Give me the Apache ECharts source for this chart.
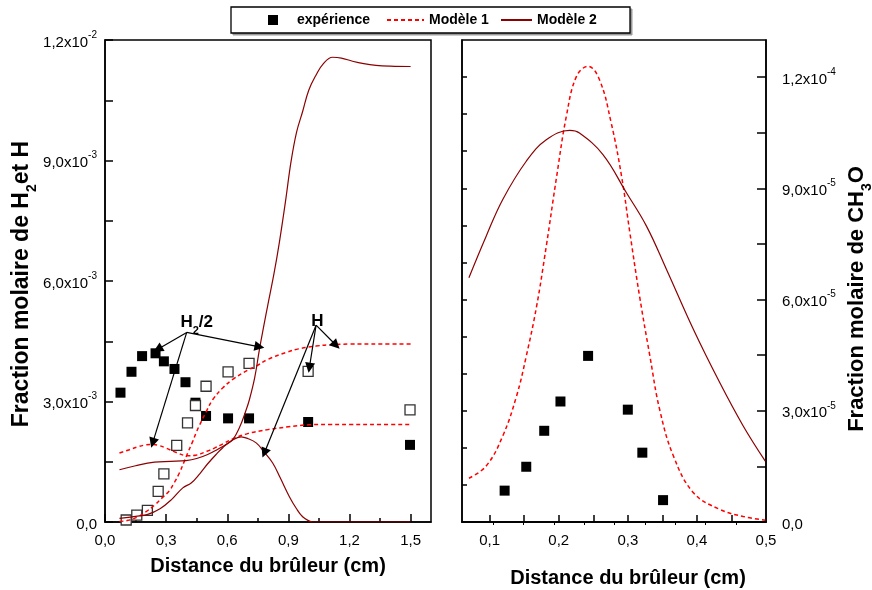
<!DOCTYPE html>
<html>
<head>
<meta charset="utf-8">
<script src="https://cdn.jsdelivr.net/npm/echarts@6/dist/echarts.min.js"></script>
<style>
  html, body { margin: 0; padding: 0; background: #fff; }
  #chart { width: 872px; height: 590px; }
</style>
</head>
<body>
<div id="chart"></div>
<script>
// ---- Panneau gauche : H2/2 et H (fraction molaire) ----
const h2ExpX = [0.076, 0.130, 0.182, 0.248, 0.289, 0.341, 0.395, 0.444, 0.496, 0.604, 0.707, 0.997, 1.497];
const h2ExpY = [3.22e-3, 3.74e-3, 4.13e-3, 4.20e-3, 4.00e-3, 3.81e-3, 3.48e-3, 2.97e-3, 2.64e-3, 2.58e-3, 2.58e-3, 2.49e-3, 1.92e-3];

const hExpX = [0.104, 0.156, 0.208, 0.261, 0.289, 0.352, 0.405, 0.444, 0.496, 0.604, 0.707, 0.997, 1.497];
const hExpY = [0.05e-3, 0.17e-3, 0.29e-3, 0.76e-3, 1.20e-3, 1.91e-3, 2.47e-3, 2.90e-3, 3.38e-3, 3.74e-3, 3.95e-3, 3.75e-3, 2.79e-3];

const h2Mod1X = [0.071, 0.12, 0.16, 0.2, 0.227, 0.26, 0.3, 0.35, 0.406, 0.45, 0.5, 0.537, 0.58, 0.627, 0.7, 0.8, 0.9, 1.0, 1.1, 1.2, 1.35, 1.5];
const h2Mod1Y = [1.72e-3, 1.80e-3, 1.87e-3, 1.92e-3, 1.93e-3, 1.91e-3, 1.84e-3, 1.73e-3, 1.65e-3, 1.67e-3, 1.76e-3, 1.84e-3, 1.95e-3, 2.07e-3, 2.20e-3, 2.30e-3, 2.37e-3, 2.42e-3, 2.43e-3, 2.43e-3, 2.43e-3, 2.43e-3];

const hMod1X = [0.071, 0.12, 0.161, 0.2, 0.243, 0.28, 0.316, 0.34, 0.365, 0.39, 0.406, 0.43, 0.447, 0.463, 0.5, 0.529, 0.58, 0.627, 0.7, 0.742, 0.8, 0.889, 0.95, 1.036, 1.1, 1.2, 1.35, 1.5];
const hMod1Y = [0.01e-3, 0.05e-3, 0.13e-3, 0.25e-3, 0.42e-3, 0.60e-3, 0.78e-3, 0.98e-3, 1.22e-3, 1.52e-3, 1.72e-3, 2.0e-3, 2.22e-3, 2.40e-3, 2.78e-3, 3.05e-3, 3.35e-3, 3.55e-3, 3.78e-3, 3.88e-3, 4.05e-3, 4.22e-3, 4.31e-3, 4.38e-3, 4.41e-3, 4.43e-3, 4.43e-3, 4.43e-3];

const h2Mod2X = [0.071, 0.15, 0.243, 0.32, 0.398, 0.45, 0.504, 0.55, 0.594, 0.627, 0.66, 0.69, 0.709, 0.735, 0.758, 0.78, 0.799, 0.83, 0.856, 0.885, 0.913, 0.94, 0.97, 1.0, 1.036, 1.07, 1.117, 1.16, 1.215, 1.27, 1.33, 1.4, 1.5];
const h2Mod2Y = [1.30e-3, 1.40e-3, 1.49e-3, 1.51e-3, 1.53e-3, 1.58e-3, 1.68e-3, 1.80e-3, 1.93e-3, 2.05e-3, 2.35e-3, 2.75e-3, 3.05e-3, 3.6e-3, 4.3e-3, 4.9e-3, 5.4e-3, 6.2e-3, 6.97e-3, 7.95e-3, 8.97e-3, 9.7e-3, 10.22e-3, 10.75e-3, 11.13e-3, 11.40e-3, 11.57e-3, 11.55e-3, 11.47e-3, 11.41e-3, 11.37e-3, 11.35e-3, 11.34e-3];

const hMod2X = [0.071, 0.15, 0.21, 0.27, 0.325, 0.382, 0.423, 0.465, 0.504, 0.545, 0.578, 0.62, 0.668, 0.7, 0.742, 0.78, 0.823, 0.86, 0.905, 0.94, 0.97, 1.0, 1.019, 1.1, 1.2, 1.3, 1.4, 1.5];
const hMod2Y = [0.09e-3, 0.14e-3, 0.19e-3, 0.33e-3, 0.55e-3, 0.85e-3, 0.97e-3, 1.2e-3, 1.45e-3, 1.68e-3, 1.85e-3, 2.02e-3, 2.12e-3, 2.08e-3, 1.97e-3, 1.75e-3, 1.47e-3, 1.1e-3, 0.63e-3, 0.33e-3, 0.13e-3, 0.03e-3, 0, 0, 0, 0, 0, 0];

// Flèches d'annotation : [x départ, y départ, x arrivée, y arrivée]
const arrowsH2 = [
  [0.401, 4.72e-3, 0.259, 4.30e-3],
  [0.401, 4.72e-3, 0.234, 1.97e-3],
  [0.401, 4.72e-3, 0.758, 4.36e-3]
];
const arrowsH = [
  [1.036, 4.90e-3, 1.134, 4.40e-3],
  [1.036, 4.90e-3, 1.003, 3.84e-3],
  [1.036, 4.90e-3, 0.782, 1.72e-3]
];
const labelH2Pos = [0.45, 4.9e-3];
const labelHPos = [1.042, 4.93e-3];

// ---- Panneau droit : CH3O ----
const ch3oExpX = [0.1217, 0.153, 0.179, 0.2025, 0.2425, 0.300, 0.321, 0.351];
const ch3oExpY = [0.846e-5, 1.49e-5, 2.46e-5, 3.25e-5, 4.48e-5, 3.03e-5, 1.87e-5, 0.59e-5];

const ch3oMod1X = [0.070, 0.095, 0.119, 0.139, 0.153, 0.168, 0.182, 0.197, 0.211, 0.2257, 0.2425, 0.259, 0.276, 0.291, 0.303, 0.317, 0.332, 0.346, 0.366, 0.395, 0.433, 0.467, 0.499];
const ch3oMod1Y = [1.18e-5, 1.51e-5, 2.32e-5, 3.40e-5, 4.47e-5, 5.82e-5, 7.44e-5, 9.32e-5, 10.94e-5, 12.02e-5, 12.29e-5, 11.93e-5, 10.76e-5, 9.32e-5, 7.80e-5, 6.09e-5, 4.47e-5, 3.04e-5, 1.78e-5, 0.79e-5, 0.34e-5, 0.15e-5, 0.05e-5];

const ch3oMod2X = [0.070, 0.095, 0.119, 0.153, 0.182, 0.216, 0.230, 0.264, 0.298, 0.327, 0.356, 0.395, 0.433, 0.467, 0.499];
const ch3oMod2Y = [6.59e-5, 7.71e-5, 8.70e-5, 9.73e-5, 10.31e-5, 10.56e-5, 10.49e-5, 9.91e-5, 8.88e-5, 7.98e-5, 6.81e-5, 5.19e-5, 3.76e-5, 2.59e-5, 1.64e-5];

// ---- Graduations ----
const leftXLabels = [0, 0.3, 0.6, 0.9, 1.2, 1.5];
const leftXMinor = [0.15, 0.45, 0.75, 1.05, 1.35];
const leftYTicks = [0, 1.5e-3, 3e-3, 4.5e-3, 6e-3, 7.5e-3, 9e-3, 10.5e-3, 12e-3];
const leftYLabels = [0, 3e-3, 6e-3, 9e-3, 12e-3];
const rightXLabels = [0.1, 0.2, 0.3, 0.4, 0.5];
const rightXTicks = [0.1, 0.15, 0.2, 0.25, 0.3, 0.35, 0.4, 0.45];
const rightXTopTicks = [0.1048, 0.1483, 0.1928, 0.2367, 0.2802, 0.3246, 0.3681, 0.4126, 0.4565];
const rightYLeftTicks = [1e-5, 2e-5, 3e-5, 4e-5, 5e-5, 6e-5, 7e-5, 8e-5, 9e-5, 10e-5, 11e-5, 12e-5];
const rightYTicks = [1.5e-5, 3e-5, 4.5e-5, 6e-5, 7.5e-5, 9e-5, 10.5e-5, 12e-5];
const rightYLabels = [0, 3e-5, 6e-5, 9e-5, 12e-5];

const FONT = '"Liberation Sans", Arial, sans-serif';
const RED = '#ff0000';
const DARK = '#8b0000';

const zip = (xs, ys) => xs.map((x, i) => [x, ys[i]]);
const comma = v => v.toFixed(1).replace('.', ',');

function sci(v) {
  if (Math.abs(v) < 1e-12) return '{m|0,0}';
  const e = Math.floor(Math.log10(v) + 1e-9);
  const m = comma(v / Math.pow(10, e));
  return '{m|' + m + 'x10}{e|' + e + '}';
}

const sciRich = {
  m: { fontSize: 15, fontFamily: FONT, color: '#000', lineHeight: 20, verticalAlign: 'bottom' },
  e: { fontSize: 10, fontFamily: FONT, color: '#000', lineHeight: 12, verticalAlign: 'top' }
};
function titleRich(size) {
  return {
    t: { fontSize: size, fontWeight: 'bold', fontFamily: FONT, color: '#000', lineHeight: size + 6, verticalAlign: 'top' },
    s: { fontSize: Math.round(size * 0.62), fontWeight: 'bold', fontFamily: FONT, color: '#000', lineHeight: size + 6, verticalAlign: 'bottom' }
  };
}

const axisLineStyle = { lineStyle: { color: '#000', width: 1.5 } };
const legendText = { fontSize: 14, fontWeight: 'bold', fontFamily: FONT, color: '#000' };

function arrowData(list) {
  return list.map(a => [{ coord: [a[0], a[1]] }, { coord: [a[2], a[3]] }]);
}

const option = {
  animation: false,
  backgroundColor: '#fff',
  graphic: [
    { type: 'rect', z: 0, shape: { x: 233, y: 9, width: 399, height: 26 }, style: { fill: '#999', stroke: '#999' } },
    { type: 'rect', z: 0, shape: { x: 231, y: 7, width: 399, height: 26 }, style: { fill: '#fff', stroke: '#000', lineWidth: 1.3 } }
  ],
  legend: [
    {
      left: 268, top: 13, padding: 0, itemWidth: 10, itemHeight: 10, selectedMode: false,
      data: [{ name: 'expérience', icon: 'rect' }],
      itemStyle: { color: '#000', opacity: 1 },
      textStyle: Object.assign({ padding: [0, 0, 0, 14] }, legendText)
    },
    {
      left: 386, top: 13, padding: 0, itemWidth: 37, itemHeight: 10, selectedMode: false,
      data: ['Modèle 1'],
      itemStyle: { opacity: 0 },
      textStyle: legendText
    },
    {
      left: 500, top: 13, padding: 0, itemWidth: 31, itemHeight: 10, selectedMode: false,
      data: ['Modèle 2'],
      itemStyle: { opacity: 0 },
      textStyle: legendText
    }
  ],
  grid: [
    { left: 105, top: 40, width: 326, height: 482, show: true, borderColor: '#000', borderWidth: 1.5, outerBoundsMode: 'none' },
    { left: 462, top: 40, width: 304, height: 482, show: true, borderColor: '#000', borderWidth: 1.5, outerBoundsMode: 'none' }
  ],
  xAxis: [
    {
      type: 'value', gridIndex: 0, min: 0, max: 1.6, position: 'bottom',
      axisLine: axisLineStyle, splitLine: { show: false },
      axisTick: { inside: true, length: 8, lineStyle: { width: 1.5, color: '#000' }, customValues: leftXLabels },
      axisLabel: { customValues: leftXLabels, formatter: comma, fontSize: 15, fontFamily: FONT, color: '#000', margin: 11 },
      name: 'Distance du brûleur (cm)', nameLocation: 'middle', nameGap: 34,
      nameTextStyle: { fontSize: 20, fontWeight: 'bold', fontFamily: FONT, color: '#000' }
    },
    {
      type: 'value', gridIndex: 0, min: 0, max: 1.6, position: 'bottom',
      axisLine: { show: false }, splitLine: { show: false },
      axisTick: { inside: true, length: 4, lineStyle: { width: 1.5, color: '#000' }, customValues: leftXMinor },
      axisLabel: { show: false }
    },
    {
      type: 'value', gridIndex: 1, min: 0.06, max: 0.5, position: 'bottom',
      axisLine: axisLineStyle, splitLine: { show: false },
      axisTick: { inside: true, length: 7, lineStyle: { width: 1.5, color: '#000' }, customValues: rightXTicks },
      axisLabel: { customValues: rightXLabels, formatter: comma, fontSize: 15, fontFamily: FONT, color: '#000', margin: 11 },
      name: 'Distance du brûleur (cm)', nameLocation: 'middle', nameGap: 46,
      nameTextStyle: { fontSize: 20, fontWeight: 'bold', fontFamily: FONT, color: '#000', padding: [0, 0, 0, 28] }
    },
    {
      type: 'value', gridIndex: 1, min: 0.06, max: 0.5, position: 'top',
      axisLine: axisLineStyle, splitLine: { show: false },
      axisTick: { inside: true, length: 3, lineStyle: { width: 1, color: '#000' }, customValues: rightXTopTicks },
      axisLabel: { show: false }
    }
  ],
  yAxis: [
    {
      type: 'value', gridIndex: 0, min: 0, max: 0.012, position: 'left',
      axisLine: axisLineStyle, splitLine: { show: false },
      axisTick: { inside: true, length: 8, lineStyle: { width: 1.5, color: '#000' }, customValues: leftYTicks },
      axisLabel: { customValues: leftYLabels, formatter: sci, rich: sciRich, margin: 8 },
      name: '{t|Fraction molaire de H}{s|2}{t|et H}', nameLocation: 'middle', nameGap: 64, nameRotate: 90,
      nameTextStyle: { rich: titleRich(23), padding: [0, 6, 0, 0] }
    },
    {
      type: 'value', gridIndex: 1, min: 0, max: 1.3e-4, position: 'left',
      axisLine: axisLineStyle, splitLine: { show: false },
      axisTick: { inside: true, length: 5, lineStyle: { width: 1.5, color: '#000' }, customValues: rightYLeftTicks },
      axisLabel: { show: false }
    },
    {
      type: 'value', gridIndex: 1, min: 0, max: 1.3e-4, position: 'right',
      axisLine: axisLineStyle, splitLine: { show: false },
      axisTick: { inside: true, length: 9, lineStyle: { width: 1.5, color: '#000' }, customValues: rightYTicks },
      axisLabel: { customValues: rightYLabels, formatter: sci, rich: sciRich, margin: 16 },
      name: '{t|Fraction molaire de CH}{s|3}{t|O}', nameLocation: 'middle', nameGap: 80, nameRotate: 90,
      nameTextStyle: { rich: titleRich(22), padding: [0, 36, 0, 0] }
    }
  ],
  series: [
    {
      name: 'expérience', type: 'scatter', xAxisIndex: 0, yAxisIndex: 0,
      data: zip(h2ExpX, h2ExpY), symbol: 'rect', symbolSize: 10,
      itemStyle: { color: '#000', opacity: 1 }, z: 3
    },
    {
      name: 'expérience H', type: 'scatter', xAxisIndex: 0, yAxisIndex: 0,
      data: zip(hExpX, hExpY), symbol: 'rect', symbolSize: 10,
      itemStyle: { color: '#fff', borderColor: '#333', borderWidth: 1.3, opacity: 1 }, z: 3
    },
    {
      name: 'Modèle 1', type: 'line', xAxisIndex: 0, yAxisIndex: 0,
      data: zip(h2Mod1X, h2Mod1Y), showSymbol: false, symbol: 'none', smooth: 0.4,
      lineStyle: { color: RED, width: 1.5, type: [4, 3] }, itemStyle: { color: RED }, z: 4
    },
    {
      name: 'Modèle 1', type: 'line', xAxisIndex: 0, yAxisIndex: 0,
      data: zip(hMod1X, hMod1Y), showSymbol: false, symbol: 'none', smooth: 0.4,
      lineStyle: { color: RED, width: 1.5, type: [4, 3] }, itemStyle: { color: RED }, z: 4
    },
    {
      name: 'Modèle 2', type: 'line', xAxisIndex: 0, yAxisIndex: 0,
      data: zip(h2Mod2X, h2Mod2Y), showSymbol: false, symbol: 'none', smooth: 0.4,
      lineStyle: { color: DARK, width: 1.2 }, itemStyle: { color: DARK }, z: 4
    },
    {
      name: 'Modèle 2', type: 'line', xAxisIndex: 0, yAxisIndex: 0,
      data: zip(hMod2X, hMod2Y), showSymbol: false, symbol: 'none', smooth: 0.4,
      lineStyle: { color: DARK, width: 1.2 }, itemStyle: { color: DARK }, z: 4
    },
    {
      name: 'annotations', type: 'line', xAxisIndex: 0, yAxisIndex: 0, data: [], silent: true, z: 5,
      markLine: {
        silent: true, animation: false,
        symbol: ['none', 'triangle'], symbolSize: 10,
        lineStyle: { color: '#000', width: 1.2, type: 'solid' },
        itemStyle: { color: '#000' },
        label: { show: false },
        data: arrowData(arrowsH2).concat(arrowData(arrowsH))
      },
      markPoint: {
        silent: true, animation: false,
        symbol: 'rect', symbolSize: 1, itemStyle: { color: 'rgba(0,0,0,0)' },
        label: {
          show: true, position: 'inside',
          rich: {
            h: { fontSize: 17, fontWeight: 'bold', fontFamily: FONT, color: '#000', lineHeight: 22, verticalAlign: 'top' },
            s: { fontSize: 11, fontWeight: 'bold', fontFamily: FONT, color: '#000', lineHeight: 22, verticalAlign: 'bottom' }
          }
        },
        data: [
          { coord: labelH2Pos, label: { formatter: '{h|H}{s|2}{h|/2}' } },
          { coord: labelHPos, label: { formatter: '{h|H}' } }
        ]
      }
    },
    {
      name: 'Modèle 1', type: 'line', xAxisIndex: 2, yAxisIndex: 2,
      data: zip(ch3oMod1X, ch3oMod1Y), showSymbol: false, symbol: 'none', smooth: 0.4,
      lineStyle: { color: RED, width: 1.5, type: [4, 3] }, itemStyle: { color: RED }, z: 4
    },
    {
      name: 'Modèle 2', type: 'line', xAxisIndex: 2, yAxisIndex: 2,
      data: zip(ch3oMod2X, ch3oMod2Y), showSymbol: false, symbol: 'none', smooth: 0.4,
      lineStyle: { color: DARK, width: 1.2 }, itemStyle: { color: DARK }, z: 4
    },
    {
      name: 'expérience', type: 'scatter', xAxisIndex: 2, yAxisIndex: 2,
      data: zip(ch3oExpX, ch3oExpY), symbol: 'rect', symbolSize: 10,
      itemStyle: { color: '#000', opacity: 1 }, z: 3
    }
  ]
};

const chart = echarts.init(document.getElementById('chart'), null, { renderer: 'canvas' });
chart.setOption(option);
</script>
</body>
</html>
